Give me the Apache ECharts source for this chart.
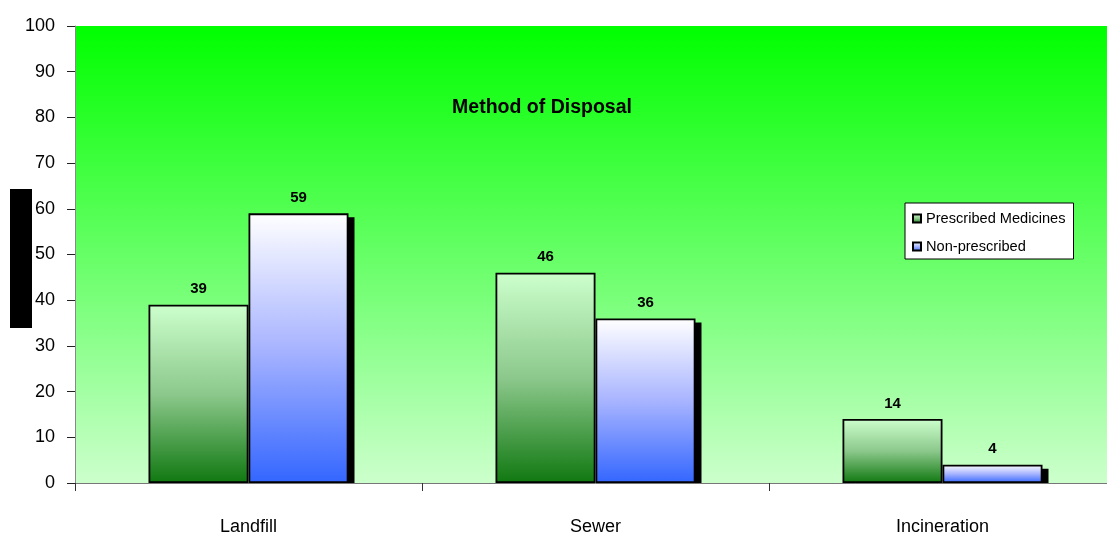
<!DOCTYPE html>
<html><head><meta charset="utf-8">
<script src="https://cdn.jsdelivr.net/npm/echarts@6/dist/echarts.min.js"></script>
<style>html,body{margin:0;padding:0;background:#fff;overflow:hidden;width:1107px;height:536px}#c{width:1130px;height:536px}</style>
</head><body><div id="c"></div>
<script>
var categories = ['Landfill', 'Sewer', 'Incineration'];
var prescribed = [39, 46, 14];
var nonPrescribed = [59, 36, 4];
var seriesNames = ['Prescribed Medicines', 'Non-prescribed'];
var titleText = 'Method of Disposal';

var SANS = '"Liberation Sans", Arial, sans-serif';
var G = echarts.graphic.LinearGradient;
var BAR_W = 100;
var chart = echarts.init(document.getElementById('c'), null, {renderer: 'canvas'});
chart.setOption({
  animation: false,
  backgroundColor: '#ffffff',
  title: {
    text: titleText, left: 537, top: 93, textAlign: 'center',
    textStyle: {fontFamily: SANS, fontWeight: 'bold', fontSize: 19.5, color: '#000'}
  },
  legend: {
    orient: 'vertical', left: 905, top: 203,
    padding: [8, 8, 5, 7], itemGap: 13,
    backgroundColor: '#ffffff', borderColor: '#000', borderWidth: 1,
    itemWidth: 8, itemHeight: 8, icon: 'rect',
    textStyle: {fontFamily: SANS, fontSize: 14.6, color: '#000'},
    data: seriesNames
  },
  grid: {
    left: 75, top: 26, width: 1041, height: 461, show: true, borderWidth: 0,
    backgroundColor: new G(0, 0, 0, 1, [{offset: 0, color: '#00ff00'}, {offset: 1, color: '#ccffcc'}])
  },
  xAxis: {
    type: 'category', data: categories,
    axisLine: {lineStyle: {color: '#777', width: 1}},
    axisTick: {show: true, length: 8, lineStyle: {color: '#333'}},
    axisLabel: {fontFamily: SANS, fontSize: 18, color: '#000', margin: 35}
  },
  yAxis: {
    type: 'value', min: 0, max: 100, interval: 10,
    splitLine: {show: false},
    axisLine: {show: true, lineStyle: {color: '#888', width: 1}},
    axisTick: {show: true, length: 8, lineStyle: {color: '#222'}},
    axisLabel: {fontFamily: SANS, fontSize: 18, color: '#000', margin: 20}
  },
  graphic: [{type: 'rect', shape: {x: 10, y: 189, width: 22, height: 139}, style: {fill: '#000'}}],
  series: [{
    name: 'shadow', type: 'custom', data: nonPrescribed.map(function (v, i) { return [i, v]; }),
    silent: true, legendHoverLink: false, clip: true,
    renderItem: function (params, api) {
      var top = api.coord([api.value(0), api.value(1)]);
      var base = api.coord([api.value(0), 0]);
      return {
        type: 'rect',
        shape: {x: top[0] + 6, y: top[1] + 4, width: BAR_W, height: base[1] - top[1] - 4},
        style: {fill: '#000'}
      };
    }
  }, {
    name: seriesNames[0], type: 'bar', data: prescribed, barWidth: BAR_W, barGap: '0%',
    itemStyle: {
      borderColor: '#000', borderWidth: 1.8,
      color: new G(0, 0, 0, 1, [{offset: 0, color: '#ccffcc'}, {offset: 0.5, color: '#8cc88c'}, {offset: 1, color: '#107810'}])
    },
    label: {show: true, position: 'top', distance: 8, fontFamily: SANS, fontWeight: 'bold', fontSize: 15, color: '#000'}
  }, {
    name: seriesNames[1], type: 'bar', data: nonPrescribed, barWidth: BAR_W, barGap: '0%',
    itemStyle: {
      borderColor: '#000', borderWidth: 1.8,
      color: new G(0, 0, 0, 1, [{offset: 0, color: '#ffffff'}, {offset: 0.5, color: '#a8b4ff'}, {offset: 1, color: '#3366ff'}])
    },
    label: {show: true, position: 'top', distance: 8, fontFamily: SANS, fontWeight: 'bold', fontSize: 15, color: '#000'}
  }]
});
</script></body></html>
